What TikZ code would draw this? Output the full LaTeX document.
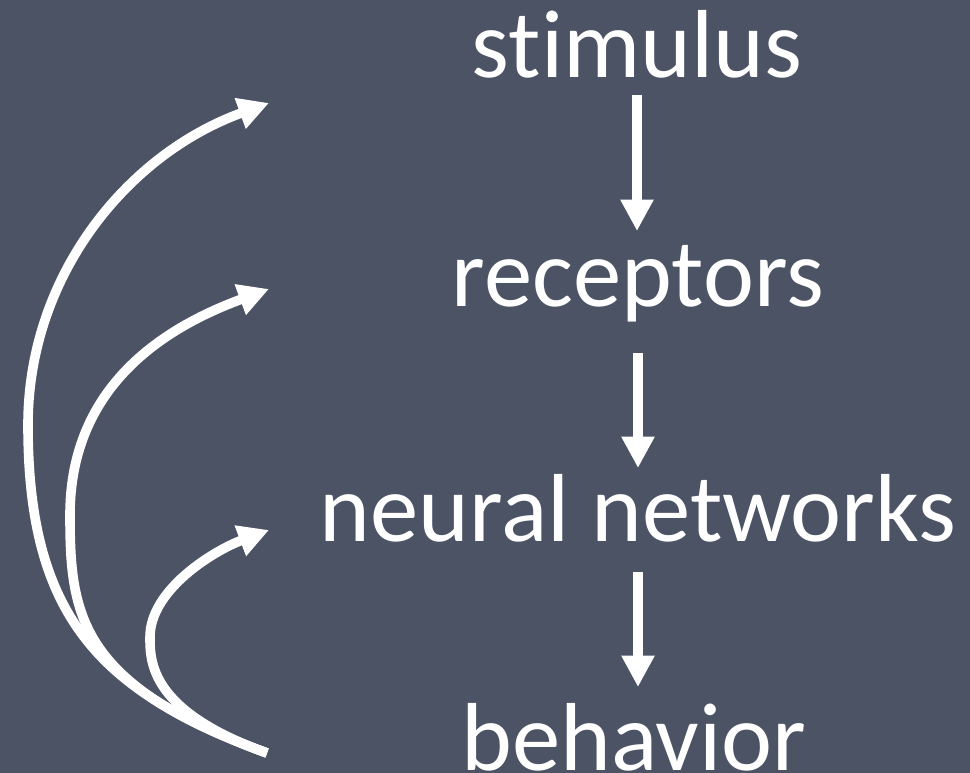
\documentclass[tikz,border=0pt]{standalone}
\usepackage{fontspec}
\setmainfont{Carlito}[Ligatures={NoCommon}]
\usetikzlibrary{arrows.meta,calc}
\definecolor{board}{HTML}{4C5365}
\tikzset{
  lbl/.style={text=white, anchor=base, inner sep=0pt, font=\fontsize{72.5}{72.5}\selectfont},
  dar/.style={draw=white, line width=7.4pt, -{Triangle[length=23.5pt,width=23.5pt]}},
  car/.style={draw=white, line width=7.2pt, -{Triangle[length=23pt,width=23pt]}}
}
\begin{document}
\begin{tikzpicture}[x=0.75pt,y=-0.75pt]
\fill[board] (0,0) rectangle (970,773);
\useasboundingbox (0,0) rectangle (970,773);
\node[lbl] (stim) at (637,78) {stimulus};
\node[lbl] (rec) at (638,306) {receptors};
\node[lbl] (neur) at (638,541) {neural networks};
\node[lbl] (beh) at (634,770) {behavior};
\draw[dar] ($(stim.base)+(0,17)$) -- ($(rec.base)+(-1,-75)$);
\draw[dar] ($(rec.base)+(0,47)$) -- ($(neur.base)+(0,-73)$);
\draw[dar] ($(neur.base)+(0,31)$) -- ($(beh.base)+(4,-83)$);
\coordinate (src) at (267,753);
\coordinate (t1) at (269,103);
\coordinate (t2) at (269,289);
\coordinate (t3) at (269,530);
\draw[car] (src) .. controls (98,691) and (28,615) .. (28,425)
  .. controls (28,275) and (128,154) .. (t1);
\draw[car] (src) .. controls (79,685) and (70,615) .. (70,515)
  .. controls (70,385) and (166,327) .. (t2);
\draw[car] (src) .. controls (150,711) and (150,662) .. (150,637)
  .. controls (150,590) and (213,551) .. (t3);
\end{tikzpicture}
\end{document}
